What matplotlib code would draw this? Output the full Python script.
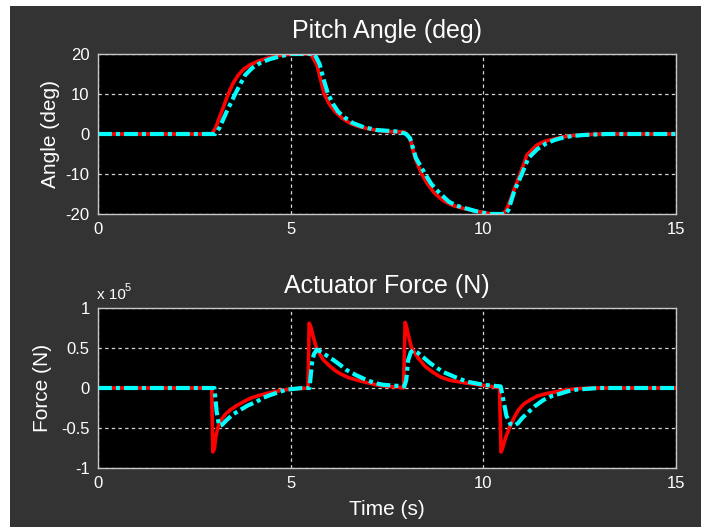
import matplotlib
matplotlib.use("Agg")
import matplotlib.pyplot as plt
from matplotlib.patches import Rectangle

plt.rcParams["font.family"] = ["Liberation Sans", "DejaVu Sans"]
plt.rcParams["lines.scale_dashes"] = False
plt.rcParams["axes.unicode_minus"] = False

# ---- pitch angle (deg) ----
pitch_t_actual = [0, 2.95, 3.05, 3.21, 3.38, 3.5, 3.64, 3.78, 3.94, 4.15, 4.38, 4.58, 4.8,
                  5.1, 5.52, 5.68, 5.78, 5.87, 6.0, 6.15, 6.33, 6.54, 6.75, 6.97, 7.25,
                  7.49, 7.95, 8.1, 8.23, 8.4, 8.55, 8.7, 8.85, 9.0, 9.22, 9.48, 9.75, 10.0,
                  10.2, 10.5, 10.6, 10.78, 10.95, 11.05, 11.13, 11.39, 11.6, 11.9, 12.2,
                  12.5, 13.0, 15]
pitch_actual = [0, 0, 1.5, 5.6, 10, 12.6, 14.75, 16.2, 17.25, 18.2, 18.9, 19.4, 19.75,
                20, 20, 17.25, 13.5, 10, 7.5, 5.6, 4.0, 2.7, 1.9, 1.4, 0.9,
                0.6, 0.5, -1.1, -6.1, -10, -12.5, -14.4, -15.8, -16.9, -17.9, -18.6, -19.2, -19.6,
                -20, -20, -19, -14.4, -10, -7.5, -5.25, -2.75, -1.8, -1.1, -0.5,
                -0.25, 0, 0]

pitch_t_ref = [0, 3.04, 3.15, 3.34, 3.56, 3.7, 3.82, 4.0, 4.2, 4.45, 4.72, 5.0, 5.62, 5.75,
               5.86, 5.97, 6.1, 6.23, 6.42, 6.62, 6.9, 7.23, 7.8, 8.0, 8.1, 8.25, 8.49,
               8.65, 8.83, 9.1, 9.3, 9.55, 9.85, 10.17, 10.58, 10.65, 10.8, 11.0, 11.17,
               11.4, 11.64, 11.85, 12.07, 12.3, 12.6, 13.2, 15]
pitch_ref = [0, 0, 1.5, 5.6, 10, 12.6, 14.75, 16.5, 17.7, 18.7, 19.4, 20, 20, 17.5,
             13.5, 10, 7.5, 5.6, 4.0, 2.7, 1.7, 1.0, 0.6, 0, -1.1, -6, -10,
             -12.5, -14.4, -16.9, -17.9, -18.6, -19.4, -20, -20, -19, -14.4, -10, -6,
             -3.8, -2.3, -1.5, -0.9, -0.5, -0.25, 0, 0]

# ---- actuator force (N) ----
force_t_actual = [0, 2.95, 2.98, 3.02, 3.06, 3.12, 3.2, 3.3, 3.43, 3.6, 3.75, 3.86, 4.0,
                  4.2, 4.45, 4.7, 4.9, 5.1, 5.45, 5.48, 5.52, 5.58, 5.67, 5.76, 5.85, 6.0,
                  6.15, 6.28, 6.5, 6.71, 6.95, 7.23, 7.5, 7.8, 7.93, 7.97, 8.0, 8.06, 8.14,
                  8.3, 8.49, 8.68, 8.88, 9.1, 9.57, 9.9, 10.2, 10.42, 10.46, 10.5, 10.58,
                  10.69, 10.8, 10.91, 11.05, 11.21, 11.4, 11.64, 12.07, 12.4, 12.8, 15]
force_actual = [0, 0, -0.80e5, -0.76e5, -0.6e5, -0.48e5, -0.40e5, -0.33e5, -0.275e5,
                -0.22e5, -0.18e5, -0.15e5, -0.12e5, -0.09e5, -0.06e5, -0.035e5, -0.02e5,
                -0.01e5, 0, 0.81e5, 0.77e5, 0.65e5, 0.5e5, 0.42e5, 0.35e5, 0.28e5,
                0.22e5, 0.18e5, 0.13e5, 0.10e5, 0.07e5, 0.04e5, 0.02e5, 0.01e5, 0,
                0.82e5, 0.78e5, 0.65e5, 0.5e5, 0.38e5, 0.27e5, 0.2e5, 0.14e5, 0.10e5,
                0.06e5, 0.04e5, 0.02e5, 0, -0.80e5, -0.75e5, -0.62e5, -0.48e5, -0.37e5,
                -0.275e5, -0.2e5, -0.15e5, -0.1e5, -0.07e5, -0.03e5, -0.01e5, 0, 0]

force_t_ref = [0, 3.02, 3.08, 3.14, 3.22, 3.34, 3.5, 3.69, 3.88, 4.12, 4.3, 4.46, 4.7, 4.9,
               5.3, 5.49, 5.55, 5.6, 5.68, 5.8, 5.95, 6.11, 6.28, 6.45, 6.7, 6.97, 7.2,
               7.4, 7.95, 8.0, 8.05, 8.12, 8.18, 8.3, 8.45, 8.62, 8.8, 8.96, 9.25, 9.57,
               10.0, 10.45, 10.5, 10.6, 10.7, 10.8, 10.9, 11.0, 11.13, 11.33, 11.56,
               11.78, 12.0, 12.2, 12.42, 13.0, 15]
force_ref = [0, 0, -0.3e5, -0.47e5, -0.46e5, -0.4e5, -0.33e5, -0.275e5, -0.22e5, -0.17e5,
             -0.12e5, -0.09e5, -0.05e5, -0.02e5, 0, 0, 0.3e5, 0.42e5, 0.48e5, 0.45e5,
             0.4e5, 0.35e5, 0.29e5, 0.225e5, 0.16e5, 0.10e5, 0.06e5, 0.04e5, 0.02e5,
             0.1e5, 0.35e5, 0.45e5, 0.47e5, 0.44e5, 0.38e5, 0.31e5, 0.25e5, 0.2e5,
             0.14e5, 0.08e5, 0.04e5, 0.02e5, -0.1e5, -0.35e5, -0.45e5, -0.47e5, -0.44e5,
             -0.38e5, -0.32e5, -0.23e5, -0.15e5, -0.1e5, -0.07e5, -0.04e5, -0.02e5, 0, 0]

time_ticks = [0, 5, 10, 15]
angle_ticks = [-20, -10, 0, 10, 20]
force_ticks = [-1e5, -0.5e5, 0, 0.5e5, 1e5]
force_tick_labels = ["-1", "-0.5", "0", "0.5", "1"]

W, H = 701, 527
BG = "#333333"
FG = "white"
SPINE = "#c8c8c8"
RED = "#ff0000"
CYAN = "#00ffff"
REF_DASHES = (10, 2.9, 2.9, 2.9)

fig = plt.figure(figsize=(W / 100, H / 100), dpi=100, facecolor="white")
fig.add_artist(Rectangle((10 / W, 0), 1 - 10 / W, (H - 6) / H, transform=fig.transFigure,
                         facecolor=BG, edgecolor="none", zorder=-10))


def box(left, top, right, bottom):
    return [left / W, 1 - bottom / H, (right - left) / W, (bottom - top) / H]


def style(ax, yticks):
    ax.set_facecolor("black")
    ax.set_xlim(0, 15)
    ax.set_xticks(time_ticks)
    ax.set_yticks(yticks)
    for s in ax.spines.values():
        s.set_color(SPINE)
        s.set_linewidth(1.0)
    ax.tick_params(length=0, labelsize=12, labelcolor=FG)
    ax.tick_params(axis="x", pad=6)
    ax.tick_params(axis="y", pad=6)
    ax.grid(True, color="#d8d8d8", linewidth=0.9, linestyle=(0, (2.4, 2.4)))
    ax.set_axisbelow(True)


ax1 = fig.add_axes(box(98, 54, 676, 214))
style(ax1, angle_ticks)
ax1.set_ylim(-20, 20)
ax1.plot(pitch_t_actual, pitch_actual, color=RED, lw=2.6)
ax1.plot(pitch_t_ref, pitch_ref, color=CYAN, lw=3.0, dashes=REF_DASHES)
ax1.set_ylabel("Angle (deg)", fontsize=15, color=FG)
ax1.yaxis.set_label_coords(-0.066, 0.5)

ax2 = fig.add_axes(box(98, 308, 676, 468))
style(ax2, force_ticks)
ax2.set_ylim(-1e5, 1e5)
ax2.set_yticklabels(force_tick_labels)
ax2.plot(force_t_actual, force_actual, color=RED, lw=2.6)
ax2.plot(force_t_ref, force_ref, color=CYAN, lw=3.0, dashes=REF_DASHES)
ax2.set_ylabel("Force (N)", fontsize=15, color=FG)
ax2.yaxis.set_label_coords(-0.080, 0.5)

# titles, x label and exponent marker
cx = (98 + 676) / 2 / W
fig.text(cx, 1 - 38 / H, "Pitch Angle (deg)", fontsize=18, color=FG, ha="center", va="baseline")
fig.text(cx, 1 - 293 / H, "Actuator Force (N)", fontsize=18, color=FG, ha="center", va="baseline")
fig.text(cx, 1 - 515 / H, "Time (s)", fontsize=15, color=FG, ha="center", va="baseline")
fig.text(97 / W, 1 - 299 / H, "x 10", fontsize=11, color=FG, ha="left", va="baseline")
fig.text(125 / W, 1 - 291 / H, "5", fontsize=8, color=FG, ha="left", va="baseline")

fig.savefig("out.png", dpi=100, facecolor=fig.get_facecolor())
